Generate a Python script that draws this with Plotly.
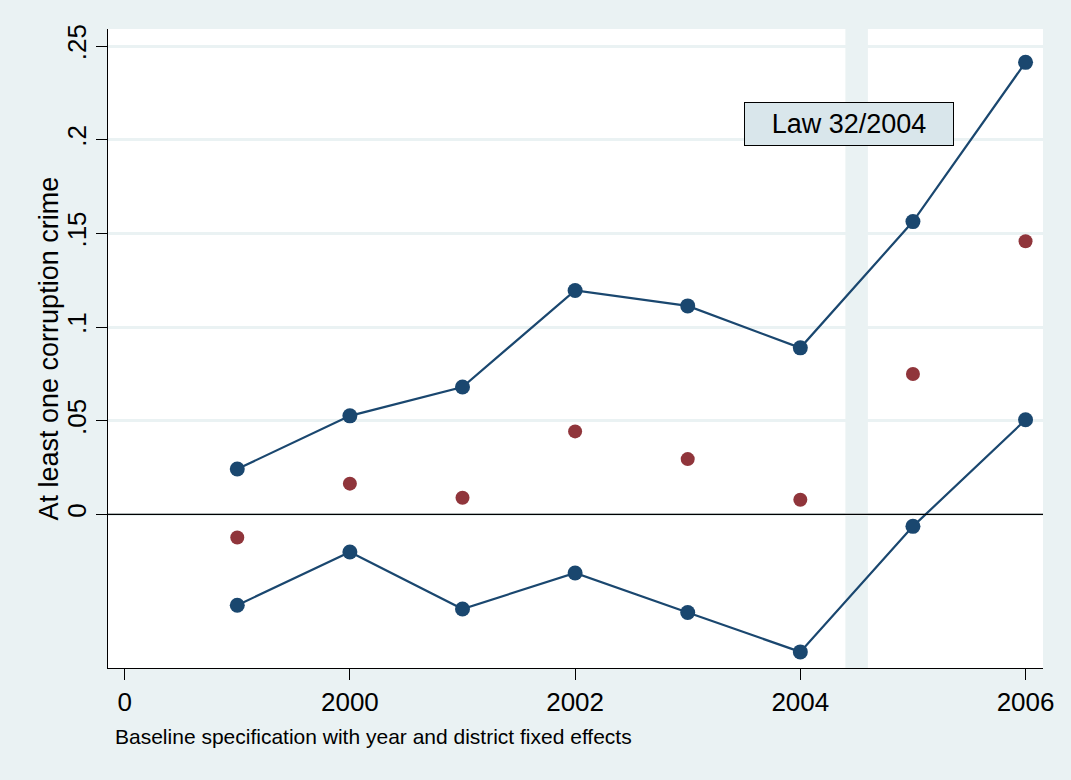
import plotly.graph_objects as go

# Yearly estimates with 95% confidence bounds
years = [1999, 2000, 2001, 2002, 2003, 2004, 2005, 2006]
upper_ci = [0.0242, 0.0526, 0.0680, 0.1195, 0.1113, 0.0889, 0.1563, 0.2413]
lower_ci = [-0.0485, -0.0201, -0.0505, -0.0313, -0.0524, -0.0734, -0.0064, 0.0505]
point_est = [-0.0123, 0.0164, 0.0089, 0.0443, 0.0295, 0.0078, 0.0749, 0.1458]

x_tickvals = [1998, 2000, 2002, 2004, 2006]
x_ticktext = ["0", "2000", "2002", "2004", "2006"]
y_tickvals = [0, 0.05, 0.1, 0.15, 0.2, 0.25]
y_ticktext = ["0", ".05", ".1", ".15", ".2", ".25"]

law_start, law_end = 2004.4, 2004.6

NAVY = "#1a476f"
MAROON = "#90353b"
BG = "#eaf2f3"
FONT = "Liberation Sans, Arial, sans-serif"

fig = go.Figure()

for ci in (upper_ci, lower_ci):
    fig.add_trace(go.Scatter(
        x=years, y=ci, mode="lines+markers",
        line=dict(color=NAVY, width=2.2),
        marker=dict(color=NAVY, size=15),
        showlegend=False, hoverinfo="skip",
    ))

fig.add_trace(go.Scatter(
    x=years, y=point_est, mode="markers",
    marker=dict(color=MAROON, size=14),
    showlegend=False,
))

# shaded period marking the law
fig.add_shape(type="rect", xref="x", yref="paper",
              x0=law_start, x1=law_end, y0=0, y1=1,
              fillcolor=BG, line=dict(width=0), layer="between")

# zero reference line
fig.add_shape(type="line", xref="paper", yref="y",
              x0=0, x1=1, y0=0, y1=0,
              line=dict(color="black", width=1.2), layer="above")

fig.add_annotation(
    x=2004.43, y=0.2084, xref="x", yref="y",
    text="Law 32/2004", showarrow=False,
    font=dict(family=FONT, size=27, color="black"),
    bgcolor="#d9e6eb", bordercolor="black", borderwidth=1,
    width=208, height=42, borderpad=0,
)

# y-axis title, placed close to the tick labels
fig.add_annotation(
    x=(48 - 108) / 935, y=0.5, xref="paper", yref="paper",
    xanchor="center", yanchor="middle", textangle=-90,
    text="At least one corruption crime", showarrow=False,
    font=dict(family=FONT, size=27, color="black"),
)

# x-axis caption, left aligned
fig.add_annotation(
    x=(113 - 108) / 935, y=-(737 - 668.5) / 639.5,
    xref="paper", yref="paper", xanchor="left", yanchor="middle",
    text="Baseline specification with year and district fixed effects",
    showarrow=False, font=dict(family=FONT, size=21, color="black"),
)

fig.update_layout(
    width=1071, height=780,
    margin=dict(l=108, r=28, t=29, b=111.5),
    paper_bgcolor=BG, plot_bgcolor="white",
    font=dict(family=FONT, color="black"),
    showlegend=False,
)

fig.update_xaxes(
    range=[1997.852, 2006.155],
    tickvals=x_tickvals, ticktext=x_ticktext,
    ticks="outside", ticklen=11, tickwidth=1, tickcolor="black",
    tickfont=dict(size=26),
    showgrid=False, zeroline=False,
    showline=True, linecolor="black", linewidth=1,
)

fig.update_yaxes(
    range=[-0.0820, 0.2591],
    tickvals=y_tickvals, ticktext=y_ticktext, tickangle=-90,
    ticks="outside", ticklen=11, tickwidth=1, tickcolor="black",
    tickfont=dict(size=26),
    showgrid=True, gridcolor=BG, gridwidth=2.5,
    zeroline=False,
    showline=True, linecolor="black", linewidth=1,
)

fig.write_html("out.html")
